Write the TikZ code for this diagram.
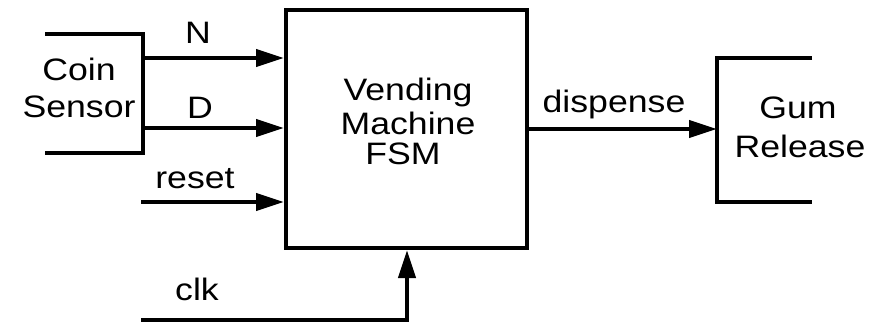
\documentclass[tikz,border=0pt]{standalone}
\usepackage{fontspec}
\setmainfont{Liberation Sans}[FakeStretch=1.15]
\usetikzlibrary{arrows.meta}
\begin{document}
\begin{tikzpicture}[x=1pt,y=-1pt,line width=4pt,
  sig/.style={-{Triangle[length=28pt,width=17pt]}},
  lbl/.style={font=\fontsize{31}{36}\selectfont,inner sep=0pt,anchor=base}]
\useasboundingbox (0,0) rectangle (870,322);
% main block
\node[draw,rectangle,minimum width=241pt,minimum height=238pt,inner sep=0pt] (fsm) at (406.5,129) {};
\node[lbl] (fsmA) at (408,100) {Vending};
\node[lbl] (fsmB) at (408,134) {Machine};
\node[lbl] (fsmC) at (403,164) {FSM};
% coin sensor bracket
\coordinate (cstl) at (45,34);
\coordinate (cstr) at (143,34);
\coordinate (csbr) at (143,153);
\coordinate (csbl) at (45,153);
\draw (cstl) -- (cstr) -- (csbr) -- (csbl);
\node[lbl] (coinA) at (79,80) {Coin};
\node[lbl] (coinB) at (79,117) {Sensor};
% gum release bracket
\coordinate (grtr) at (812,58);
\coordinate (grtl) at (717,58);
\coordinate (grbl) at (717,202);
\coordinate (grbr) at (812,202);
\draw (grtr) -- (grtl) -- (grbl) -- (grbr);
\node[lbl] (gumA) at (798,118) {Gum};
\node[lbl] (gumB) at (800,157) {Release};
% inputs
\coordinate (nsrc) at (143,58);
\coordinate (dsrc) at (143,128);
\coordinate (rsrc) at (141,202);
\coordinate (csrc) at (141,320);
\coordinate (cbend) at (407,320);
\draw[sig] (nsrc) -- (nsrc -| fsm.west);
\draw[sig] (dsrc) -- (dsrc -| fsm.west);
\draw[sig] (rsrc) -- (rsrc -| fsm.west);
\draw[sig] (csrc) -- (cbend) -- (cbend |- fsm.south);
\node[lbl] (lN) at (198,43) {N};
\node[lbl] (lD) at (200,118) {D};
\node[lbl] (lreset) at (195,188) {reset};
\node[lbl] (lclk) at (197,300) {clk};
% output
\coordinate (dout) at (fsm.east |- 0,129);
\draw[sig] (dout) -- (dout -| grtl);
\node[lbl] (ldisp) at (614,112) {dispense};
\end{tikzpicture}
\end{document}
